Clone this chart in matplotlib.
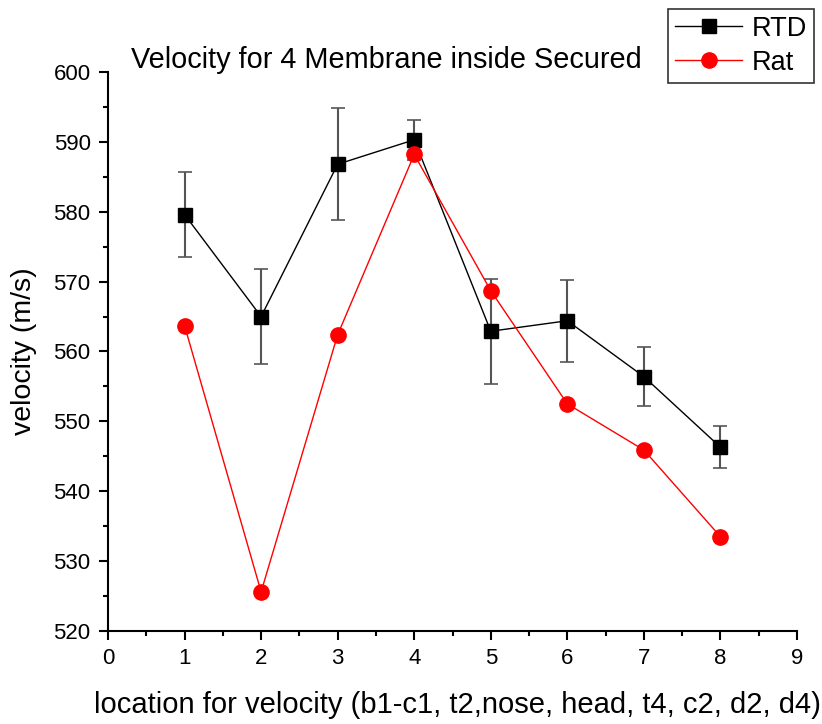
import matplotlib
matplotlib.use("Agg")
import matplotlib.pyplot as plt
from matplotlib.ticker import MultipleLocator
from matplotlib.lines import Line2D

plt.rcParams['font.family'] = ['Liberation Sans', 'DejaVu Sans']

x = [1, 2, 3, 4, 5, 6, 7, 8]
rtd = [579.6, 565.0, 586.8, 590.3, 562.9, 564.4, 556.4, 546.3]
rtd_err = [6.1, 6.8, 8.0, 2.9, 7.5, 5.9, 4.2, 3.0]
rat = [563.7, 525.6, 562.4, 588.2, 568.7, 552.5, 545.9, 533.5]

W, H = 822, 724
fig = plt.figure(figsize=(W / 100, H / 100), dpi=100)
ax_l, ax_r, ax_t, ax_b = 108, 797, 72, 631
ax = fig.add_axes([ax_l / W, 1 - ax_b / H, (ax_r - ax_l) / W, (ax_b - ax_t) / H])

ax.errorbar(x, rtd, yerr=rtd_err, color='black', lw=1, marker='s', ms=10,
            ecolor='#555555', elinewidth=1.5, capsize=5, capthick=1.2,
            zorder=3)
ax.plot(x, rat, color='red', lw=1, marker='o', ms=11, zorder=4)

ax.set_xlim(0, 9)
ax.set_ylim(520, 600)
ax.xaxis.set_major_locator(MultipleLocator(1))
ax.xaxis.set_minor_locator(MultipleLocator(0.5))
ax.yaxis.set_major_locator(MultipleLocator(10))
ax.yaxis.set_minor_locator(MultipleLocator(5))
ax.tick_params(which='major', direction='out', length=6.5, width=1.5, labelsize=16, pad=6)
ax.tick_params(which='minor', direction='out', length=3.5, width=1.5)
for s in ['top', 'right']:
    ax.spines[s].set_visible(False)
for s in ['left', 'bottom']:
    ax.spines[s].set_linewidth(1.5)

ax.set_xlabel('location for velocity (b1-c1, t2,nose, head, t4, c2, d2, d4)', fontsize=21)
ax.xaxis.set_label_coords((457 - ax_l) / (ax_r - ax_l), -(713 - ax_b) / (ax_b - ax_t))
ax.xaxis.label.set_va('baseline')
ax.set_ylabel('velocity (m/s)', fontsize=20.5)
ax.yaxis.set_label_coords(-(ax_l - 24) / (ax_r - ax_l), 0.5)
ax.yaxis.label.set_va('center')
fig.text(131 / W, 1 - 68 / H, 'Velocity for 4 Membrane inside Secured', fontsize=20.8,
         ha='left', va='baseline')

handles = [Line2D([], [], color='black', lw=1, marker='s', ms=10),
           Line2D([], [], color='red', lw=1, marker='o', ms=11)]
leg = fig.legend(handles, ['RTD', 'Rat'], loc='upper left',
                 bbox_to_anchor=(668 / W, 1 - 9 / H), fontsize=19.5,
                 frameon=True, fancybox=False, edgecolor='black', borderpad=0.25,
                 handlelength=2.5, handletextpad=0.35, labelspacing=0.3, borderaxespad=0)
leg.get_frame().set_linewidth(1.2)

fig.savefig('out.png', dpi=100)
